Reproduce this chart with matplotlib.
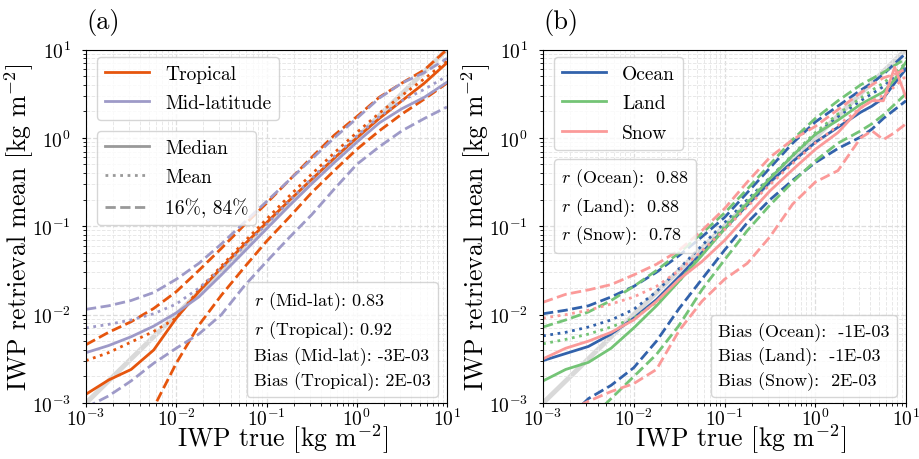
import matplotlib
matplotlib.use("Agg")
import matplotlib.pyplot as plt
from matplotlib.lines import Line2D
import numpy as np

plt.rcParams["font.family"] = ["cmr10", "DejaVu Serif"]
plt.rcParams["mathtext.fontset"] = "cm"
plt.rcParams["axes.unicode_minus"] = False
plt.rcParams["axes.formatter.use_mathtext"] = True

# log10 of IWP true (bin centres)
LX_A = [-3, -2.75, -2.5, -2.25, -2, -1.75, -1.5, -1.25, -1, -0.75, -0.5, -0.25, 0, 0.25, 0.5, 0.75, 1]
LX_B = [-3, -2.75, -2.5, -2.25, -2, -1.75, -1.5, -1.25, -1, -0.75, -0.5, -0.25, 0, 0.25, 0.5, 0.625, 0.75, 0.875, 1]

# panel (a), log10 of retrieval statistics
TROP_MED = [-2.9, -2.74, -2.62, -2.4, -2.04, -1.74, -1.47, -1.21, -0.96, -0.71, -0.47, -0.23, 0.0, 0.22, 0.42, 0.62, 0.85]
TROP_MEAN = [-2.52, -2.43, -2.31, -2.19, -2.04, -1.72, -1.45, -1.18, -0.92, -0.66, -0.41, -0.17, 0.06, 0.28, 0.48, 0.67, 0.87]
TROP_P84 = [-2.34, -2.2, -2.08, -1.93, -1.74, -1.5, -1.25, -0.99, -0.74, -0.48, -0.22, 0.03, 0.24, 0.46, 0.62, 0.77, 1.0]
TROP_P16 = [-4.0, -3.7, -3.4, -3.05, -2.55, -2.12, -1.78, -1.47, -1.17, -0.9, -0.62, -0.37, -0.13, 0.08, 0.27, 0.44, 0.62]
MID_MED = [-2.43, -2.35, -2.25, -2.13, -1.98, -1.8, -1.55, -1.29, -1.03, -0.77, -0.52, -0.28, -0.05, 0.17, 0.33, 0.46, 0.63]
MID_MEAN = [-2.15, -2.11, -2.06, -1.99, -1.88, -1.7, -1.48, -1.23, -0.98, -0.72, -0.46, -0.21, 0.02, 0.24, 0.42, 0.55, 0.7]
MID_P84 = [-1.94, -1.9, -1.84, -1.75, -1.6, -1.42, -1.2, -0.96, -0.72, -0.48, -0.24, 0.0, 0.22, 0.45, 0.62, 0.74, 0.9]
MID_P16 = [-3.05, -2.92, -2.75, -2.55, -2.38, -2.22, -2.0, -1.68, -1.4, -1.13, -0.87, -0.58, -0.3, -0.1, 0.08, 0.22, 0.35]

# panel (b)
OCEAN_MED = [-2.52, -2.44, -2.36, -2.22, -2.04, -1.83, -1.57, -1.3, -1.03, -0.76, -0.5, -0.27, -0.05, 0.12, 0.29, 0.36, 0.45, 0.62, 0.78]
OCEAN_MEAN = [-2.24, -2.2, -2.14, -2.06, -1.94, -1.74, -1.48, -1.22, -0.96, -0.7, -0.45, -0.2, 0.04, 0.24, 0.42, 0.5, 0.58, 0.7, 0.82]
OCEAN_P84 = [-1.99, -1.95, -1.9, -1.8, -1.68, -1.52, -1.33, -1.12, -0.9, -0.62, -0.34, -0.06, 0.18, 0.36, 0.54, 0.62, 0.72, 0.84, 0.96]
OCEAN_P16 = [-3.5, -3.2, -2.95, -2.8, -2.6, -2.3, -1.93, -1.6, -1.27, -0.96, -0.7, -0.48, -0.28, -0.12, 0.01, 0.1, 0.22, 0.32, 0.42]
LAND_MED = [-2.75, -2.62, -2.54, -2.38, -2.15, -1.9, -1.62, -1.33, -1.03, -0.74, -0.46, -0.2, 0.04, 0.2, 0.38, 0.45, 0.52, 0.66, 0.86]
LAND_MEAN = [-2.33, -2.28, -2.22, -2.14, -2.04, -1.86, -1.62, -1.31, -1.0, -0.72, -0.45, -0.19, 0.06, 0.27, 0.45, 0.54, 0.62, 0.73, 0.85]
LAND_P84 = [-2.14, -2.06, -1.97, -1.84, -1.68, -1.5, -1.3, -1.08, -0.85, -0.58, -0.3, -0.02, 0.22, 0.42, 0.6, 0.67, 0.74, 0.82, 0.9]
LAND_P16 = [-3.8, -3.5, -3.2, -2.95, -2.7, -2.45, -2.12, -1.72, -1.38, -1.05, -0.76, -0.5, -0.26, -0.06, 0.08, 0.16, 0.26, 0.38, 0.5]
SNOW_MED = [-2.5, -2.38, -2.3, -2.2, -2.06, -1.85, -1.6, -1.4, -1.16, -0.88, -0.6, -0.36, -0.13, 0.06, 0.34, 0.42, 0.42, 0.8, 0.46]
SNOW_MEAN = [-2.04, -2.0, -1.95, -1.88, -1.8, -1.68, -1.5, -1.28, -1.04, -0.78, -0.53, -0.29, -0.06, 0.14, 0.34, 0.42, 0.48, 0.58, 0.7]
SNOW_P84 = [-1.86, -1.77, -1.72, -1.66, -1.55, -1.43, -1.27, -1.05, -0.8, -0.5, -0.22, -0.02, 0.13, 0.32, 0.51, 0.6, 0.68, 0.72, 0.78]
SNOW_P16 = [-3.3, -3.1, -2.98, -2.87, -2.78, -2.62, -2.18, -1.85, -1.6, -1.42, -1.12, -0.75, -0.5, -0.37, 0.0, 0.08, -0.02, 0.06, 0.16]

STATS_A = ["$r$ (Mid-lat): 0.83", "$r$ (Tropical): 0.92",
           "Bias (Mid-lat): -3E-03", "Bias (Tropical): 2E-03"]
R_B = ["$r$ (Ocean):  0.88", "$r$ (Land):  0.88", "$r$ (Snow):  0.78"]
BIAS_B = ["Bias (Ocean):  -1E-03", "Bias (Land):  -1E-03", "Bias (Snow):  2E-03"]

C_TROP, C_MID = "#e6550d", "#9e9ac8"
C_OCEAN, C_LAND, C_SNOW = "#3262ab", "#74c476", "#fb9a99"
LW = 2.0


def draw(ax, lx, med, mean, p16, p84, color):
    x = 10 ** np.array(lx)
    ax.plot(x, 10 ** np.array(med), color=color, lw=LW, ls="-")
    ax.plot(x, 10 ** np.array(mean), color=color, lw=LW, ls=":")
    ax.plot(x, 10 ** np.array(p16), color=color, lw=LW, ls="--")
    ax.plot(x, 10 ** np.array(p84), color=color, lw=LW, ls="--")


def style(ax):
    ax.set_xscale("log")
    ax.set_yscale("log")
    ax.set_xlim(1e-3, 10)
    ax.set_ylim(1e-3, 10)
    ax.plot([1e-3, 10], [1e-3, 10], color="#d9d9d9", lw=3.5, zorder=0)
    ax.grid(which="major", ls="--", color="#dddddd", lw=0.9)
    ax.grid(which="minor", ls="--", color="#e8e8e8", lw=0.7)
    ax.set_axisbelow(True)
    ax.tick_params(which="major", labelsize=14, length=3)
    ax.tick_params(which="minor", length=2)
    ax.tick_params(axis="x", which="both", pad=0)
    ax.tick_params(axis="y", which="both", pad=8)
    ax.set_xlabel("IWP true [kg m$^{-2}$]", fontsize=18.5, labelpad=-5, x=0.545)
    ax.set_ylabel("IWP retrieval mean [kg m$^{-2}$]", fontsize=18.5, labelpad=-3)


def text_box(ax, lines, **kw):
    blank = [Line2D([], [], lw=0) for _ in lines]
    return ax.legend(blank, lines, handlelength=0, handletextpad=0, fontsize=13,
                     borderaxespad=0, labelspacing=0.32, **kw)


def line_legend(ax, handles, labels, anchor):
    return ax.legend(handles, labels, loc="upper left", bbox_to_anchor=anchor,
                     borderaxespad=0, fontsize=14, labelspacing=0.6, handlelength=2.3)


fig = plt.figure(figsize=(9.19, 4.60), dpi=100)
ax_a = fig.add_axes([0.0936, 0.1217, 0.3928, 0.7685])
ax_b = fig.add_axes([0.5909, 0.1217, 0.3950, 0.7685])

# (a)
style(ax_a)
draw(ax_a, LX_A, TROP_MED, TROP_MEAN, TROP_P16, TROP_P84, C_TROP)
draw(ax_a, LX_A, MID_MED, MID_MEAN, MID_P16, MID_P84, C_MID)
leg1 = line_legend(ax_a, [Line2D([], [], color=C_TROP, lw=LW), Line2D([], [], color=C_MID, lw=LW)],
                   ["Tropical", "Mid-latitude"], (0.03, 0.979))
ax_a.add_artist(leg1)
leg2 = line_legend(ax_a, [Line2D([], [], color="#999999", lw=LW, ls=s) for s in ("-", ":", "--")],
                   ["Median", "Mean", "16%, 84%"], (0.03, 0.77))
ax_a.add_artist(leg2)
text_box(ax_a, STATS_A, loc="lower right", bbox_to_anchor=(0.975, 0.017))

# (b)
style(ax_b)
draw(ax_b, LX_B, OCEAN_MED, OCEAN_MEAN, OCEAN_P16, OCEAN_P84, C_OCEAN)
draw(ax_b, LX_B, LAND_MED, LAND_MEAN, LAND_P16, LAND_P84, C_LAND)
draw(ax_b, LX_B, SNOW_MED, SNOW_MEAN, SNOW_P16, SNOW_P84, C_SNOW)
leg3 = line_legend(ax_b, [Line2D([], [], color=c, lw=LW) for c in (C_OCEAN, C_LAND, C_SNOW)],
                   ["Ocean", "Land", "Snow"], (0.03, 0.979))
ax_b.add_artist(leg3)
leg4 = text_box(ax_b, R_B, loc="upper left", bbox_to_anchor=(0.03, 0.69))
ax_b.add_artist(leg4)
text_box(ax_b, BIAS_B, loc="lower right", bbox_to_anchor=(0.975, 0.017))

fig.text(86 / 919, 1 - 22 / 460, "(a)", fontsize=19, va="center", ha="left")
fig.text(543 / 919, 1 - 22 / 460, "(b)", fontsize=19, va="center", ha="left")

fig.savefig("out.png", dpi=100)
